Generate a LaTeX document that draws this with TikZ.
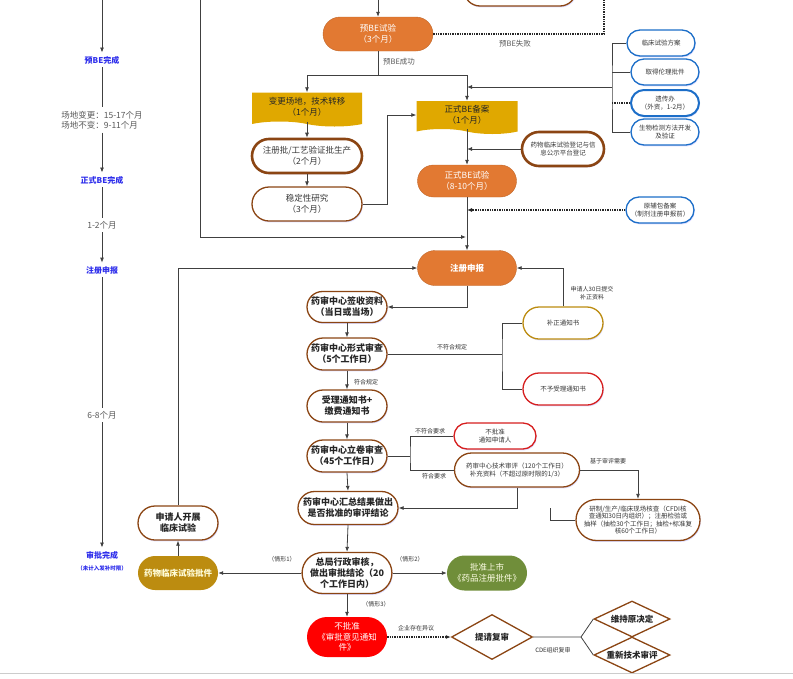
\documentclass[tikz,border=0pt]{standalone}
\usepackage{fontspec}
\setmainfont{Noto Sans CJK SC}
\usepackage{xcolor}
\usetikzlibrary{shapes.misc,shapes.symbols,shapes.geometric,arrows.meta,shadows}
\definecolor{orng}{RGB}{226,121,50}
\definecolor{brwn}{RGB}{139,69,19}
\definecolor{gold}{RGB}{224,168,0}
\definecolor{dgld}{RGB}{188,140,16}
\definecolor{blu}{RGB}{28,110,200}
\definecolor{rd}{RGB}{214,30,30}
\definecolor{grn}{RGB}{112,142,58}
\definecolor{tlblue}{RGB}{45,45,235}
\definecolor{ink}{RGB}{55,55,55}
\begin{document}
\begin{tikzpicture}
[x=1pt,y=-1pt,>={Latex[length=5pt,width=4pt]},
line/.style={draw=black!75,line width=0.8pt},
dots/.style={draw=black!85,densely dotted,line width=1.4pt},
pill/.style={rounded rectangle,align=center,inner sep=1pt,font=\fontsize{8.5}{10.5}\selectfont,text=ink},
orng/.style={pill,fill=orng,draw=orng!85!black,line width=0.4pt,text=white,minimum width=101pt,minimum height=33pt},
brwn/.style={pill,fill=white,draw=brwn,line width=1.3pt,minimum width=82pt,minimum height=32pt,
  drop shadow={shadow xshift=0.8pt,shadow yshift=-1.4pt,fill=blue!30,opacity=0.45}},
bold/.style={brwn,font=\fontsize{9}{11}\selectfont\bfseries,text=black!85},
thck/.style={brwn,line width=2.6pt},
blbx/.style={pill,fill=white,draw=blu,line width=1.3pt,minimum width=70pt,minimum height=26pt,font=\fontsize{6.5}{8}\selectfont,
  drop shadow={shadow xshift=0.8pt,shadow yshift=-1.4pt,fill=blue!30,opacity=0.45}},
banr/.style={tape,tape bend top=none,tape bend bottom=out and in,tape bend height=5pt,fill=gold,draw=none,align=center,
  inner sep=1pt,font=\fontsize{8.5}{10.5}\selectfont,text=black!85},
dmnd/.style={diamond,fill=white,draw=brwn,line width=1.3pt,inner sep=0pt,align=center,font=\fontsize{8.5}{10.5}\selectfont\bfseries,text=black!85},
tlab/.style={font=\fontsize{8}{10}\selectfont\bfseries,text=tlblue},
tnote/.style={font=\fontsize{8.5}{10.5}\selectfont,text=black!65,align=left},
lbl/.style={font=\fontsize{6}{7.5}\selectfont,text=black!80,align=center}]
\useasboundingbox (0,0) rectangle (793,678);
% time line
\coordinate (tltop) at (102,0);
\node at (102,60) [tlab] (tl1) {预BE完成};
\node at (102,120) [tnote] (tl2) {场地变更：15-17个月\\场地不变：9-11个月};
\node at (102,180) [tlab] (tl3) {正式BE完成};
\node at (102,225) [tnote] (tl4) {1-2个月};
\node at (102,270) [tlab] (tl5) {注册申报};
\node at (102,415) [tnote] (tl6) {6-8个月};
\node at (102,555) [tlab] (tl7) {审批完成};
\node at (102,568) [tlab,font=\fontsize{5.5}{7}\selectfont\bfseries] (tl8) {（未计入发补时限）};
\draw[line,->] (tltop) -- (tl1.north);
\draw[line] (tl1.south) -- (tl2.north);
\draw[line,->] (tl2.south) -- (tl3.north);
\draw[line] (tl3.south) -- (tl4.north);
\draw[line,->] (tl4.south) -- (tl5.north);
\draw[line] (tl5.south) -- (tl6.north);
\draw[line,->] (tl6.south) -- (tl7.north);
% BE stage
\node at (520,-10) [brwn,minimum width=114pt] (prev) {};
\node at (378,34) [orng,minimum width=112pt,minimum height=34pt] (preBE) {预BE试验\\（3个月）};
\node at (307,107) [banr,minimum width=110pt,minimum height=34pt] (chg) {变更场地，技术转移\\（1个月）};
\node at (307,156) [thck,minimum width=112pt,minimum height=34pt] (regb) {注册批/工艺验证批生产\\（2个月）};
\node at (307,204) [brwn,minimum width=112pt,minimum height=34pt] (stab) {稳定性研究\\（3个月）};
\node at (467,115) [banr,minimum width=101pt,minimum height=33pt] (fbeRec) {正式BE备案\\（1个月）};
\node at (563,149) [thck,minimum width=84pt,minimum height=34pt,font=\fontsize{6.5}{8}\selectfont] (regPlat) {药物临床试验登记与信\\息公示平台登记};
\node at (467,181) [orng,minimum height=32pt] (fbe) {正式BE试验\\（8-10个月）};
\node at (661,43) [blbx] (b1) {临床试验方案};
\node at (665,72) [blbx] (b2) {取得伦理批件};
\node at (665,103) [blbx,line width=2pt] (b3) {遗传办\\（外资，1-2月）};
\node at (665,132) [blbx] (b4) {生物检测方法开发\\及验证};
\node at (660,210) [blbx] (b5) {原辅包备案\\（制剂注册申报前）};
\coordinate (failTop) at (604,0);
\coordinate (split) at (378,75);
\coordinate (bigtop) at (200,0);
\coordinate (join1) at (466,237);
\coordinate (brk) at (612,87);
\draw[line,->] (preBE.north |- 0,0) -- (preBE.north);
\draw[dots] (preBE.east) -| (failTop);
\node at (515,44) [lbl,font=\fontsize{7.5}{9}\selectfont,text=black!65] (failL) {预BE失败};
\draw[line] (preBE.south) -- (split);
\node at (399,62) [lbl,font=\fontsize{7.5}{9}\selectfont,text=black!65] (succL) {预BE成功};
\draw[line,->] (split) -| (chg.north);
\draw[line,->] (split) -| (fbeRec.north);
\draw[line,->] (chg.south) -- (regb.north);
\draw[line,->] (regb.south) -- (stab.north);
\draw[line,->] (stab.east) -- ++(25,0) |- (fbeRec.west);
\draw[line,->] (bigtop) |- (join1);
\draw[line,->] (fbeRec.south) -- (fbe.north);
\draw[line,->] (regPlat.west) -- (regPlat.west -| fbe.north);
\draw[line] (b1.west) -| (brk) |- (b4.west);
\draw[line] (b2.west) -- (b2.west -| brk);
\draw[dots] (b3.west) -- (b3.west -| brk);
\draw[line,->] (brk) -- (brk -| fbeRec.north);
% registration
\node at (467,268) [orng,minimum height=35pt,font=\fontsize{8.5}{10.5}\selectfont\bfseries] (sub) {注册申报};
\draw[line,->] (fbe.south) -- (sub.north);
\draw[dots,->] (b5.west) -- (b5.west -| fbe.south);
\node at (347,307) [bold,minimum height=31pt] (sign) {药审中心签收资料\\（当日或当场）};
\node at (347,354) [bold] (form) {药审中心形式审查\\（5个工作日）};
\node at (347,406) [bold] (notice) {受理通知书+\\缴费通知书};
\node at (563,323) [brwn,draw=dgld,font=\fontsize{6.5}{8}\selectfont] (corr) {补正通知书};
\node at (563,389) [brwn,draw=rd,font=\fontsize{6.5}{8}\selectfont] (rej) {不予受理通知书};
\node at (347,456) [bold] (file) {药审中心立卷审查\\（45个工作日）};
\node at (495,436) [brwn,draw=rd,minimum width=84pt,minimum height=26pt,font=\fontsize{6.5}{8}\selectfont] (nogo) {不批准\\通知申请人};
\node at (517,470) [brwn,minimum width=127pt,minimum height=34pt,font=\fontsize{6.5}{8}\selectfont] (tech) {药审中心技术审评（120个工作日）\\补充资料（不超过原时限的1/3）};
\node at (638,520) [brwn,minimum width=126pt,minimum height=41pt,font=\fontsize{6.5}{7.5}\selectfont] (insp) {研制/生产/临床现场核查（CFDI核\\查通知30日内组织）；注册检验或\\抽样（抽检30个工作日；抽检+标准复\\核60个工作日）};
\node at (348,508) [bold,minimum width=102pt,minimum height=33pt] (sum) {药审中心汇总结果做出\\是否批准的审评结论};
\coordinate (fork1) at (502,354);
\coordinate (fork2) at (410,456);
\coordinate (merge) at (550,508);
\draw[line,->] (sub.south) |- (sign.east);
\draw[line,->] (sign.south) -- (form.north);
\draw[line] (form.east) -- (fork1);
\node at (452,347) [lbl] (l1) {不符合规定};
\draw[line] (corr.west) -| (fork1) |- (rej.west);
\draw[line,->] (corr.north) |- (sub.east);
\node at (592,293) [lbl] (l2) {申请人30日提交\\补正资料};
\draw[line,->] (form.south) -- (notice.north);
\node at (366,382) [lbl] (l3) {符合规定};
\draw[line,->] (notice.south) -- (file.north);
\draw[line] (file.east) -- (fork2);
\draw[line] (nogo.west) -| (fork2) |- (tech.west);
\node at (430,431) [lbl] (l4) {不符合要求};
\node at (434,476) [lbl] (l5) {符合要求};
\draw[line,->] (tech.east) -| (insp.north);
\node at (608,461) [lbl] (l6) {基于审评需要};
\draw[line,->] (tech.south) |- (sum.east);
\draw[line] (insp.west) -| (merge);
\draw[line,->] (file.south) -- (sum.north);
% decision
\node at (347,573) [bold,minimum width=84pt,minimum height=41pt] (admin) {总局行政审核，\\做出审批结论（20\\个工作日内）};
\node at (178,573) [pill,fill=dgld,draw=none,minimum width=82pt,minimum height=34pt,text=yellow!15,font=\fontsize{8.5}{10.5}\selectfont\bfseries] (trial) {药物临床试验批件};
\node at (178,523) [bold,minimum height=34pt] (appl) {申请人开展\\临床试验};
\node at (487,573) [pill,fill=grn,draw=none,minimum width=82pt,minimum height=35pt,text=yellow!10] (mkt) {批准上市\\《药品注册批件》};
\node at (347,637) [pill,fill=red,draw=none,minimum width=82pt,minimum height=40pt,text=white] (deny) {不批准\\《审批意见通知\\件》};
\node at (492,637) [dmnd,minimum width=81pt,minimum height=45pt] (recon) {\makebox[0pt]{提请复审}};
\node at (632,619) [dmnd,minimum width=76pt,minimum height=36pt] (keep) {\makebox[0pt]{维持原决定}};
\node at (632,655) [dmnd,minimum width=76pt,minimum height=36pt] (redo) {\makebox[0pt]{重新技术审评}};
\coordinate (fork3) at (581,637);
\draw[line,->] (sum.south) -- (admin.north);
\draw[line,->] (admin.west) -- (trial.east);
\node at (282,559) [lbl] (c1) {（情形1）};
\draw[line,->] (trial.north) -- (appl.south);
\draw[line,->] (appl.north) |- (sub.west);
\draw[line,->] (admin.east) -- (mkt.west);
\node at (410,559) [lbl] (c2) {（情形2）};
\draw[line,->] (admin.south) -- (deny.north);
\node at (376,604) [lbl] (c3) {（情形3）};
\draw[dots,->] (deny.east) -- (recon.west);
\node at (416,628) [lbl] (l7) {企业存在异议};
\draw[line] (recon.east) -- (fork3) -- (keep.west);
\draw[line] (fork3) -- (redo.west);
\node at (553,650) [lbl] (l8) {CDE组织复审};
\draw[black!20,line width=1pt] (0,673) -- (793,673);
\end{tikzpicture}
\end{document}
